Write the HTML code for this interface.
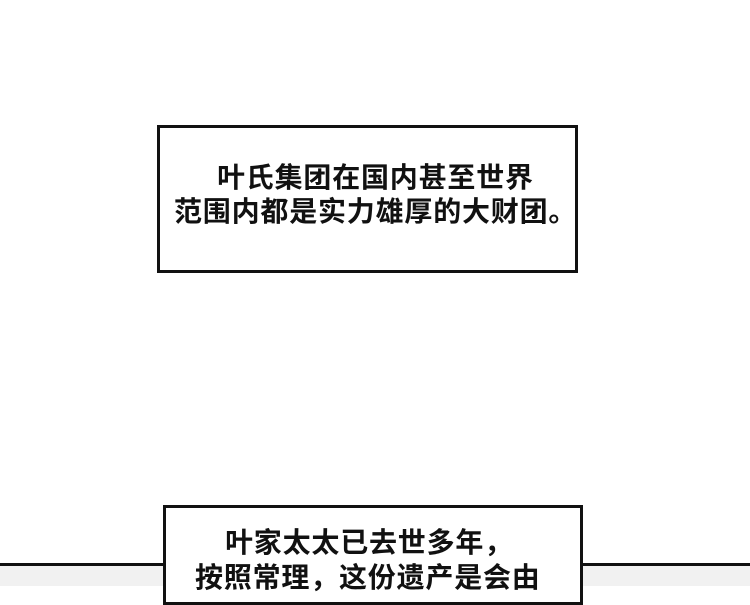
<!DOCTYPE html>
<html><head><meta charset="utf-8"><style>
body{margin:0;width:750px;height:586px;background:#fff;position:relative;overflow:hidden;font-family:"Liberation Sans","Noto Sans CJK SC",sans-serif;}
.b{position:absolute;border:3px solid #111;background:#fff;box-sizing:border-box;}
.t{position:absolute;font-size:28px;line-height:34px;color:#111;white-space:nowrap;letter-spacing:0.8px;font-weight:bold;}
</style></head><body>
<div style="position:absolute;left:0;top:566px;width:750px;height:20px;background:#f1f1f1"></div>
<div style="position:absolute;left:0;top:563px;width:750px;height:3px;background:#111"></div>
<div class="b" style="left:157px;top:125px;width:421px;height:148px"></div>
<div class="t" style="left:217px;top:161px">叶氏集团在国内甚至世界</div>
<div class="t" style="left:174px;top:195px">范围内都是实力雄厚的大财团。</div>
<div class="b" style="left:163px;top:505px;width:420px;height:100px"></div>
<div class="t" style="left:225px;top:526px">叶家太太已去世多年，</div>
<div class="t" style="left:195px;top:561px">按照常理，这份遗产是会由</div>
</body></html>
